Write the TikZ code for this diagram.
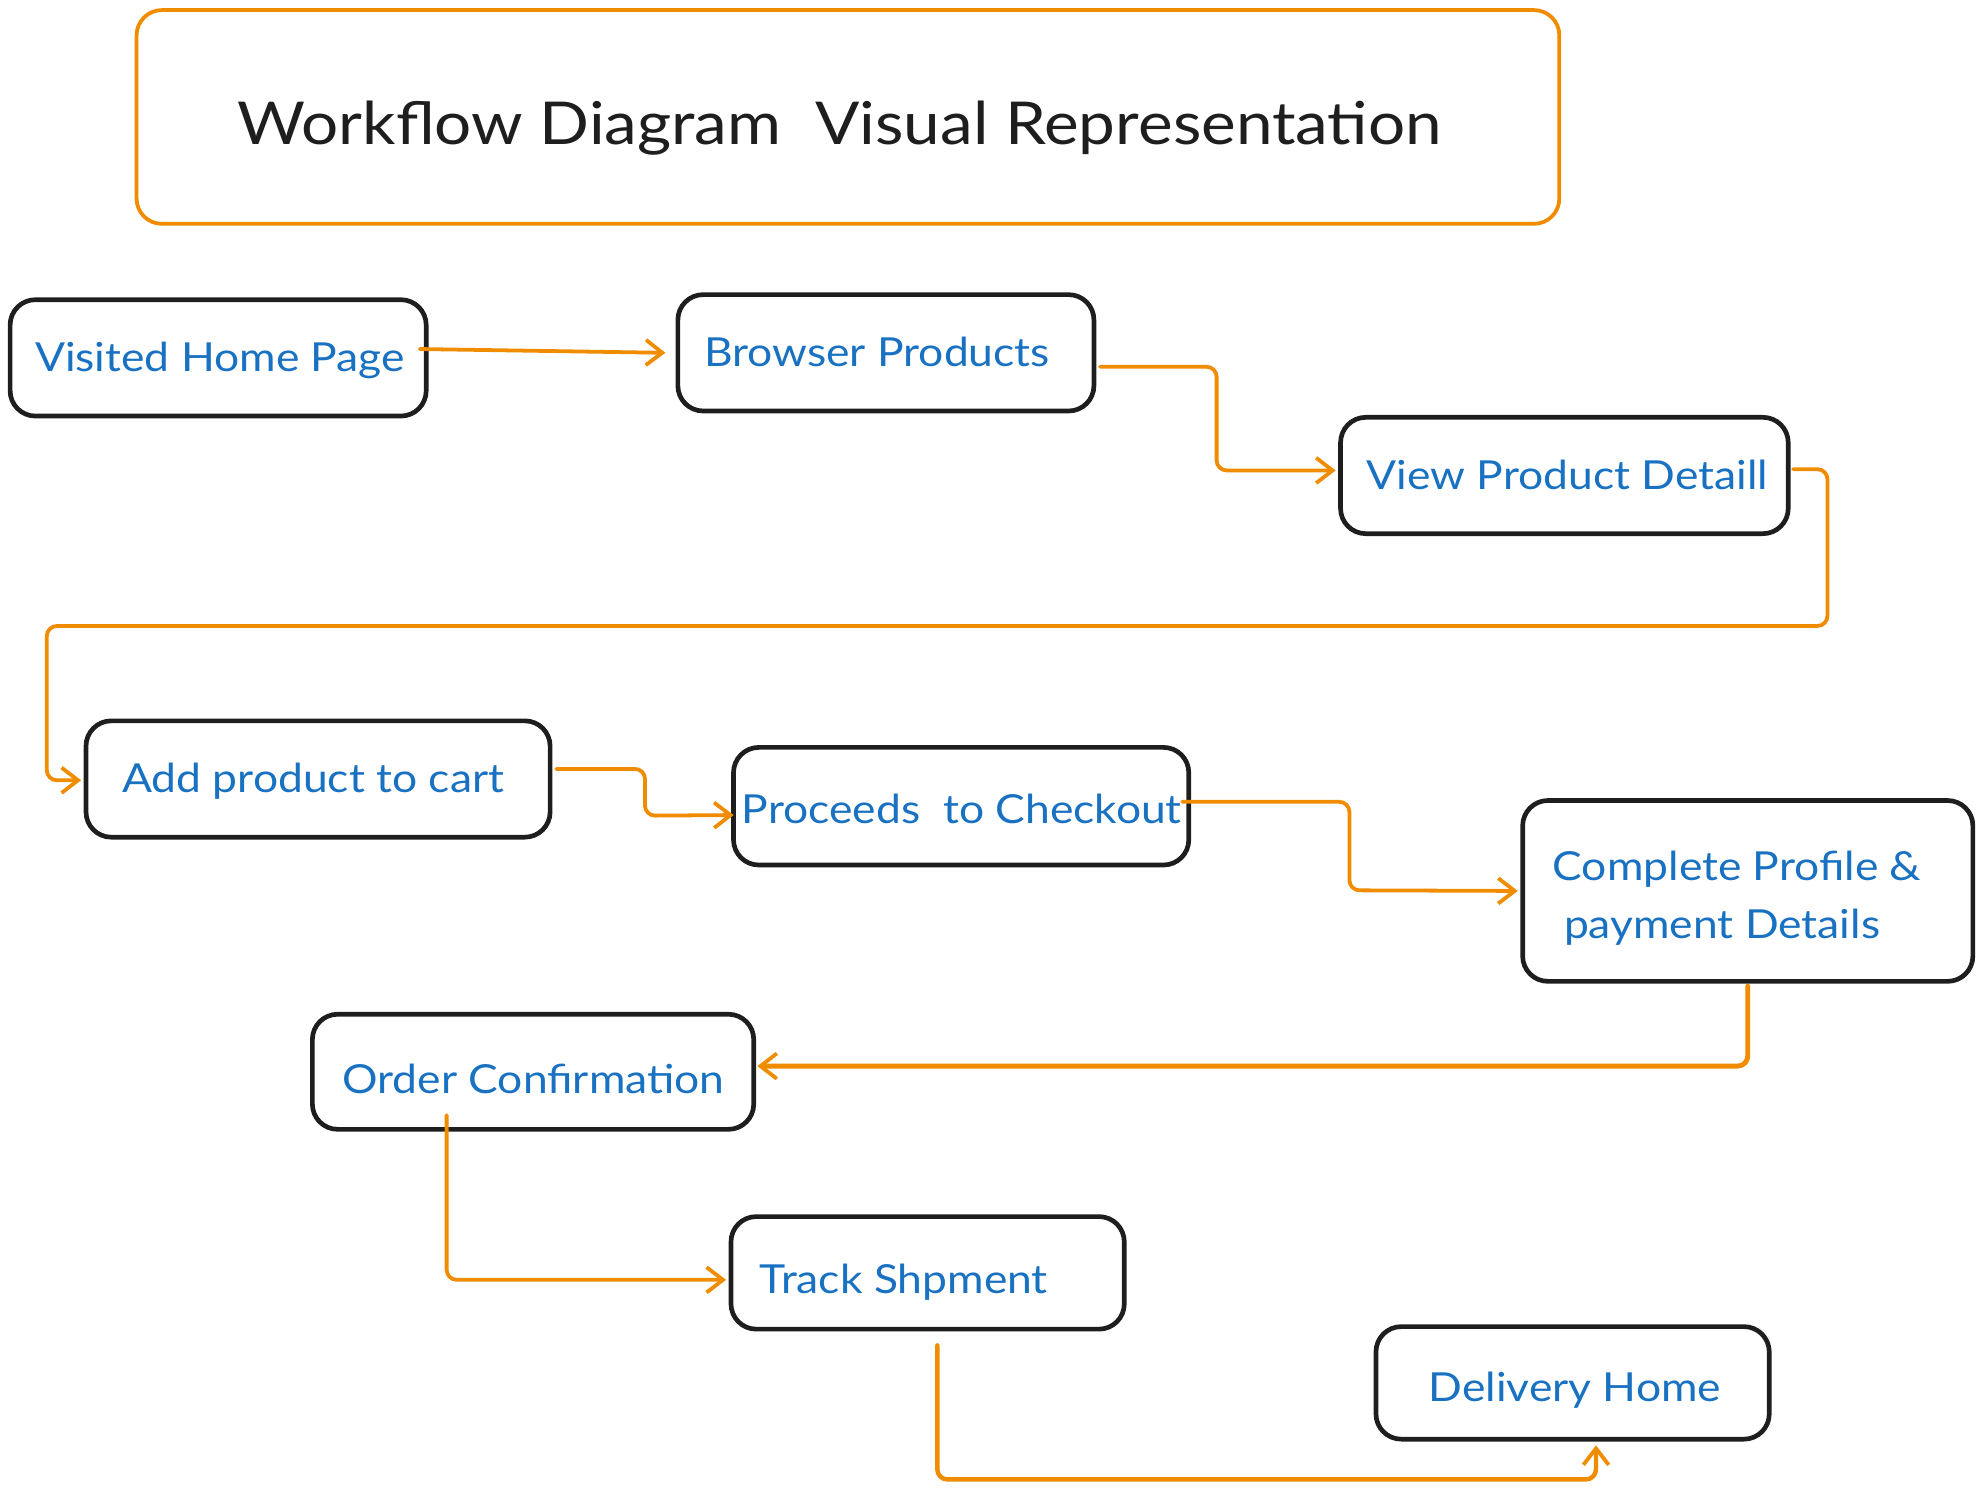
\documentclass[tikz,border=0pt]{standalone}
\usepackage{fontspec}
\setmainfont[FakeStretch=1.11]{Lato}
\usetikzlibrary{arrows.meta,calc,fit}
\definecolor{exblue}{HTML}{1971C2}
\definecolor{exorange}{HTML}{F08C00}
\definecolor{exdark}{HTML}{1E1E1E}
\tikzset{
  stepbox/.style={draw=exdark, line width=1.05pt, rounded corners=2mm, inner sep=0pt},
  titlebox/.style={draw=exorange, line width=0.85pt, rounded corners=2mm, inner sep=0pt},
  label/.style={anchor=base west, inner sep=0pt, text=exblue, font=\fontsize{9}{11}\selectfont},
  titletext/.style={anchor=base west, inner sep=0pt, text=exdark, font=\fontsize{13.3}{16}\selectfont},
  flow/.style={draw=exorange, line width=0.85pt, rounded corners=0.8mm, line cap=round,
    -{Straight Barb[length=1.3mm,width=2mm,line width=0.85pt]}},
}
\begin{document}
\begin{tikzpicture}[x=0.1mm,y=-0.1mm]
\useasboundingbox (0,0) rectangle (1568,1178);
% title
\node[titlebox, fit={(108,8) (1233,177)}] (title) {};
\node[titletext] (titlet) at (187,114) {Workflow Diagram\ \ Visual Representation};
% boxes
\node[stepbox, fit={(8,237) (337,329)}] (vhp) {};
\node[stepbox, fit={(536,233) (865,325)}] (bp) {};
\node[stepbox, fit={(1060,330) (1414,422)}] (vpd) {};
\node[stepbox, fit={(68,570) (435,662)}] (add) {};
\node[stepbox, fit={(580,591) (940,684)}] (ptc) {};
\node[stepbox, fit={(1204,633) (1560,776)}] (cpp) {};
\node[stepbox, fit={(247,802) (596,893)}] (oc) {};
\node[stepbox, fit={(578,962) (889,1051)}] (ts) {};
\node[stepbox, fit={(1088,1049) (1399,1138)}] (dh) {};
% texts
\node[label] (vhpt) at (27,294) {Visited Home Page};
\node[label] (bpt) at (556,290) {Browser Products};
\node[label] (vpdt) at (1080,387) {View Product Detaill};
\node[label] (addt) at (96,627) {Add product to cart};
\node[label] (ptct) at (586,651) {Proceeds\ \ to Checkout};
\node[label] (cppt1) at (1227,696) {Complete Profile \&};
\node[label] (cppt2) at (1236,742) {payment Details};
\node[label] (oct) at (270,865) {Order Confirmation};
\node[label] (tst) at (600,1023) {Track Shpment};
\node[label] (dht) at (1129,1108) {Delivery Home};
% connectors
\draw[flow] ($(vhp.east)+(-7,-7)$) -- ($(bp.west)+(-8,0)$);
\draw[flow] ($(bp.east)+(3,11)$) -| (962,372) -- ($(vpd.west)+(-2,-4)$);
\draw[flow] ($(vpd.east)+(2,-5)$) -| (1445,495) -| (37,617) -- ($(add.west)+(-2,1)$);
\draw[flow] ($(add.east)+(3,-8)$) -| (510,645) -- ($(ptc.west)+(2,7)$);
\draw[flow] ($(ptc.east)+(-7,-3.5)$) -| (1067,704) -- ($(cpp.west)+(-2,0)$);
\draw[flow, line width=1.1pt] ($(cpp.south)+(0,2)$) |- ($(oc.east)+(1,-4.5)$);
\draw[flow] ($(oc.south west)+(108,-13)$) |- ($(ts.west)+(-2,5.5)$);
\draw[flow, line width=1pt] ($(ts.south west)+(165,11)$) |- ($(dh.south)+(18.5,30)$) -- ($(dh.south)+(18.5,3)$);
\end{tikzpicture}
\end{document}
